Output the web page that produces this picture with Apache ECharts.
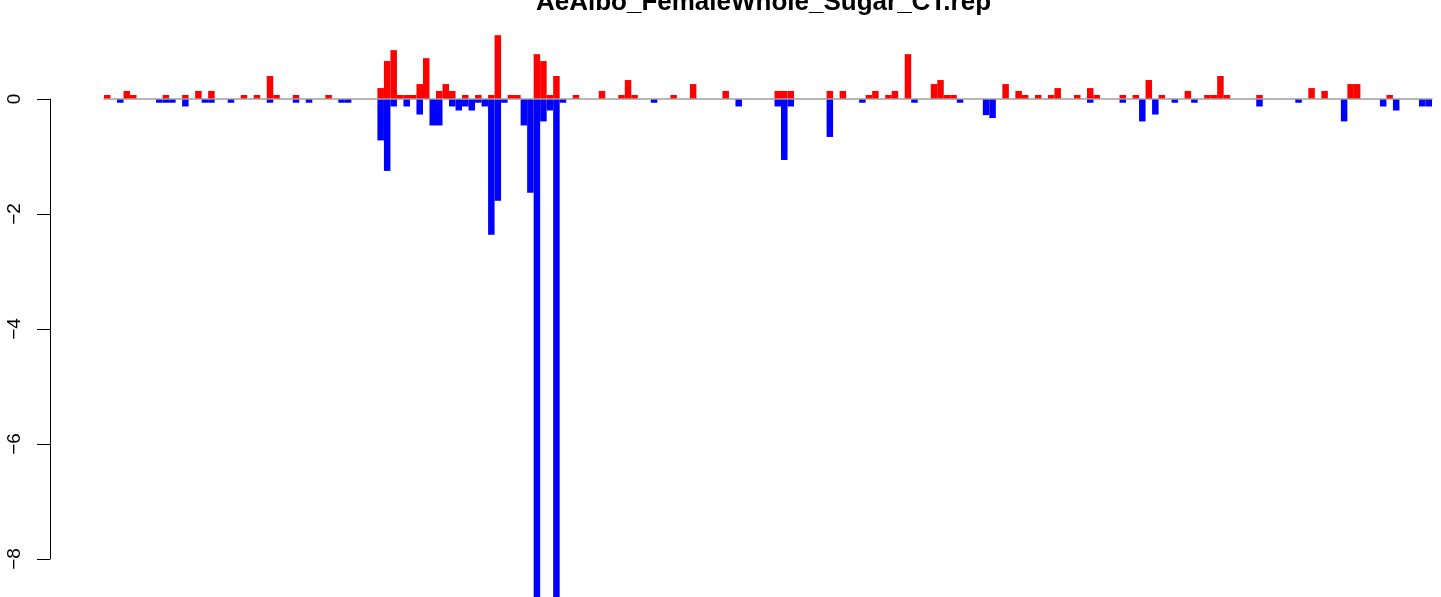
<!DOCTYPE html>
<html>
<head>
<meta charset="utf-8">
<script src="https://cdn.jsdelivr.net/npm/echarts@6/dist/echarts.min.js"></script>
<style>
html,body{margin:0;padding:0;background:#fff;}
#chart{width:1441px;height:597px;}
</style>
</head>
<body>
<div id="chart"></div>
<script>
const chartTitle = "AeAlbo_FemaleWhole_Sugar_CT.rep";
const yTicks = [0, -2, -4, -6, -8];
const slotCount = 204;
const categories = Array.from({length: slotCount}, (_, i) => String(i + 1));

const posVals = [
  0.07, null, null, 0.14, 0.07, null, null, null, null, 0.07,
  null, null, 0.07, null, 0.14, null, 0.14, null, null, null,
  null, 0.07, null, 0.07, null, 0.40, 0.07, null, null, 0.07,
  null, null, null, null, 0.07, null, null, null, null, null,
  null, null, 0.19, 0.66, 0.85, 0.07, 0.07, 0.07, 0.26, 0.71,
  null, 0.14, 0.26, 0.14, null, 0.07, null, 0.07, null, 0.07,
  1.11, null, 0.07, 0.07, null, null, 0.78, 0.66, 0.07, 0.40,
  null, null, 0.07, null, null, null, 0.14, null, null, 0.07,
  0.33, 0.07, null, null, null, null, null, 0.07, null, null,
  0.26, null, null, null, null, 0.14, null, null, null, null,
  null, null, null, 0.14, 0.14, 0.14, null, null, null, null,
  null, 0.14, null, 0.14, null, null, null, 0.07, 0.14, null,
  0.07, 0.14, null, 0.78, null, null, null, 0.26, 0.33, 0.07,
  0.07, null, null, null, null, null, null, null, 0.26, null,
  0.14, 0.07, null, 0.07, null, 0.07, 0.19, null, null, 0.07,
  null, 0.19, 0.07, null, null, null, 0.07, null, 0.07, null,
  0.33, null, 0.07, null, null, null, 0.14, null, null, 0.07,
  0.07, 0.40, 0.07, null, null, null, null, 0.07, null, null,
  null, null, null, null, null, 0.19, null, 0.14, null, null,
  null, 0.26, 0.26, null, null, null, null, 0.07, null, null,
  null, null, null, null
];

const negVals = [
  null, null, -0.065, null, null, null, null, null, -0.065, -0.065,
  -0.065, null, -0.13, null, null, -0.065, -0.065, null, null, -0.065,
  null, null, null, null, null, -0.065, null, null, null, -0.065,
  null, -0.065, null, null, null, null, -0.065, -0.065, null, null,
  null, null, -0.72, -1.25, -0.13, null, -0.13, null, -0.27, null,
  -0.46, -0.46, null, -0.13, -0.2, -0.13, -0.2, -0.065, -0.13, -2.36,
  -1.77, -0.065, null, null, -0.46, -1.63, -9.5, -0.39, -0.2, -9.5,
  -0.065, null, null, null, null, null, null, null, null, null,
  null, null, null, null, -0.065, null, null, null, null, null,
  null, null, null, null, null, null, null, -0.13, null, null,
  null, null, null, -0.13, -1.06, -0.13, null, null, null, null,
  null, -0.66, null, null, null, null, -0.065, null, null, null,
  null, null, null, null, -0.065, null, null, null, null, null,
  null, -0.065, null, null, null, -0.28, -0.33, null, null, null,
  null, null, null, null, null, null, null, null, null, null,
  null, -0.065, null, null, null, null, -0.065, null, null, -0.39,
  null, -0.27, null, null, -0.065, null, null, -0.065, null, null,
  null, null, null, null, null, null, null, -0.13, null, null,
  null, null, null, -0.065, null, null, null, null, null, null,
  -0.39, null, null, null, null, null, -0.13, null, -0.2, null,
  null, null, -0.13, -0.13
];

const chart = echarts.init(document.getElementById('chart'), null, {renderer: 'canvas'});
const FONT = '"Liberation Sans", Arial, Helvetica, sans-serif';

chart.setOption({
  animation: false,
  backgroundColor: '#ffffff',
  grid: [
    {left: 104, right: 9, top: 30, bottom: 0, containLabel: false},
    {left: 50, width: 100, top: 99, bottom: 38, containLabel: false}
  ],
  xAxis: [
    {
      type: 'category', gridIndex: 0, data: categories,
      boundaryGap: true,
      axisLine: {show: true, onZero: true, lineStyle: {color: '#a0a0a0', width: 1.6}},
      axisTick: {show: false}, axisLabel: {show: false}, splitLine: {show: false},
      z: 10
    },
    {
      type: 'value', gridIndex: 1, show: false, min: 0, max: 1
    }
  ],
  yAxis: [
    {
      type: 'value', gridIndex: 0, min: -8.66, max: 1.2, show: false,
      splitLine: {show: false}
    },
    {
      type: 'value', gridIndex: 1, min: yTicks[yTicks.length - 1], max: yTicks[0], interval: 2,
      position: 'left',
      axisLine: {show: true, lineStyle: {color: '#000', width: 1}},
      axisTick: {show: true, inside: false, length: 13, lineStyle: {color: '#000', width: 1}},
      axisLabel: {
        show: true, rotate: 90, margin: 26, color: '#000',
        fontFamily: FONT, fontSize: 19,
        formatter: v => (v < 0 ? '\u2212' + Math.abs(v) : String(v))
      },
      splitLine: {show: false}
    }
  ],
  series: [
    {
      type: 'bar', name: 'pos', xAxisIndex: 0, yAxisIndex: 0,
      data: posVals, barCategoryGap: 0, barGap: '-100%',
      itemStyle: {color: '#ff0000'}, clip: true, z: 2
    },
    {
      type: 'bar', name: 'neg', xAxisIndex: 0, yAxisIndex: 0,
      data: negVals, barCategoryGap: 0, barGap: '-100%',
      itemStyle: {color: '#0000ff'}, clip: true, z: 2
    }
  ],
  graphic: [
    {
      type: 'text', x: 763.5, y: 3, z: 100,
      style: {
        text: chartTitle, fill: '#000', fontFamily: FONT, fontWeight: 'bold',
        fontSize: 26, textAlign: 'center', textVerticalAlign: 'middle'
      }
    }
  ]
});
</script>
</body>
</html>
